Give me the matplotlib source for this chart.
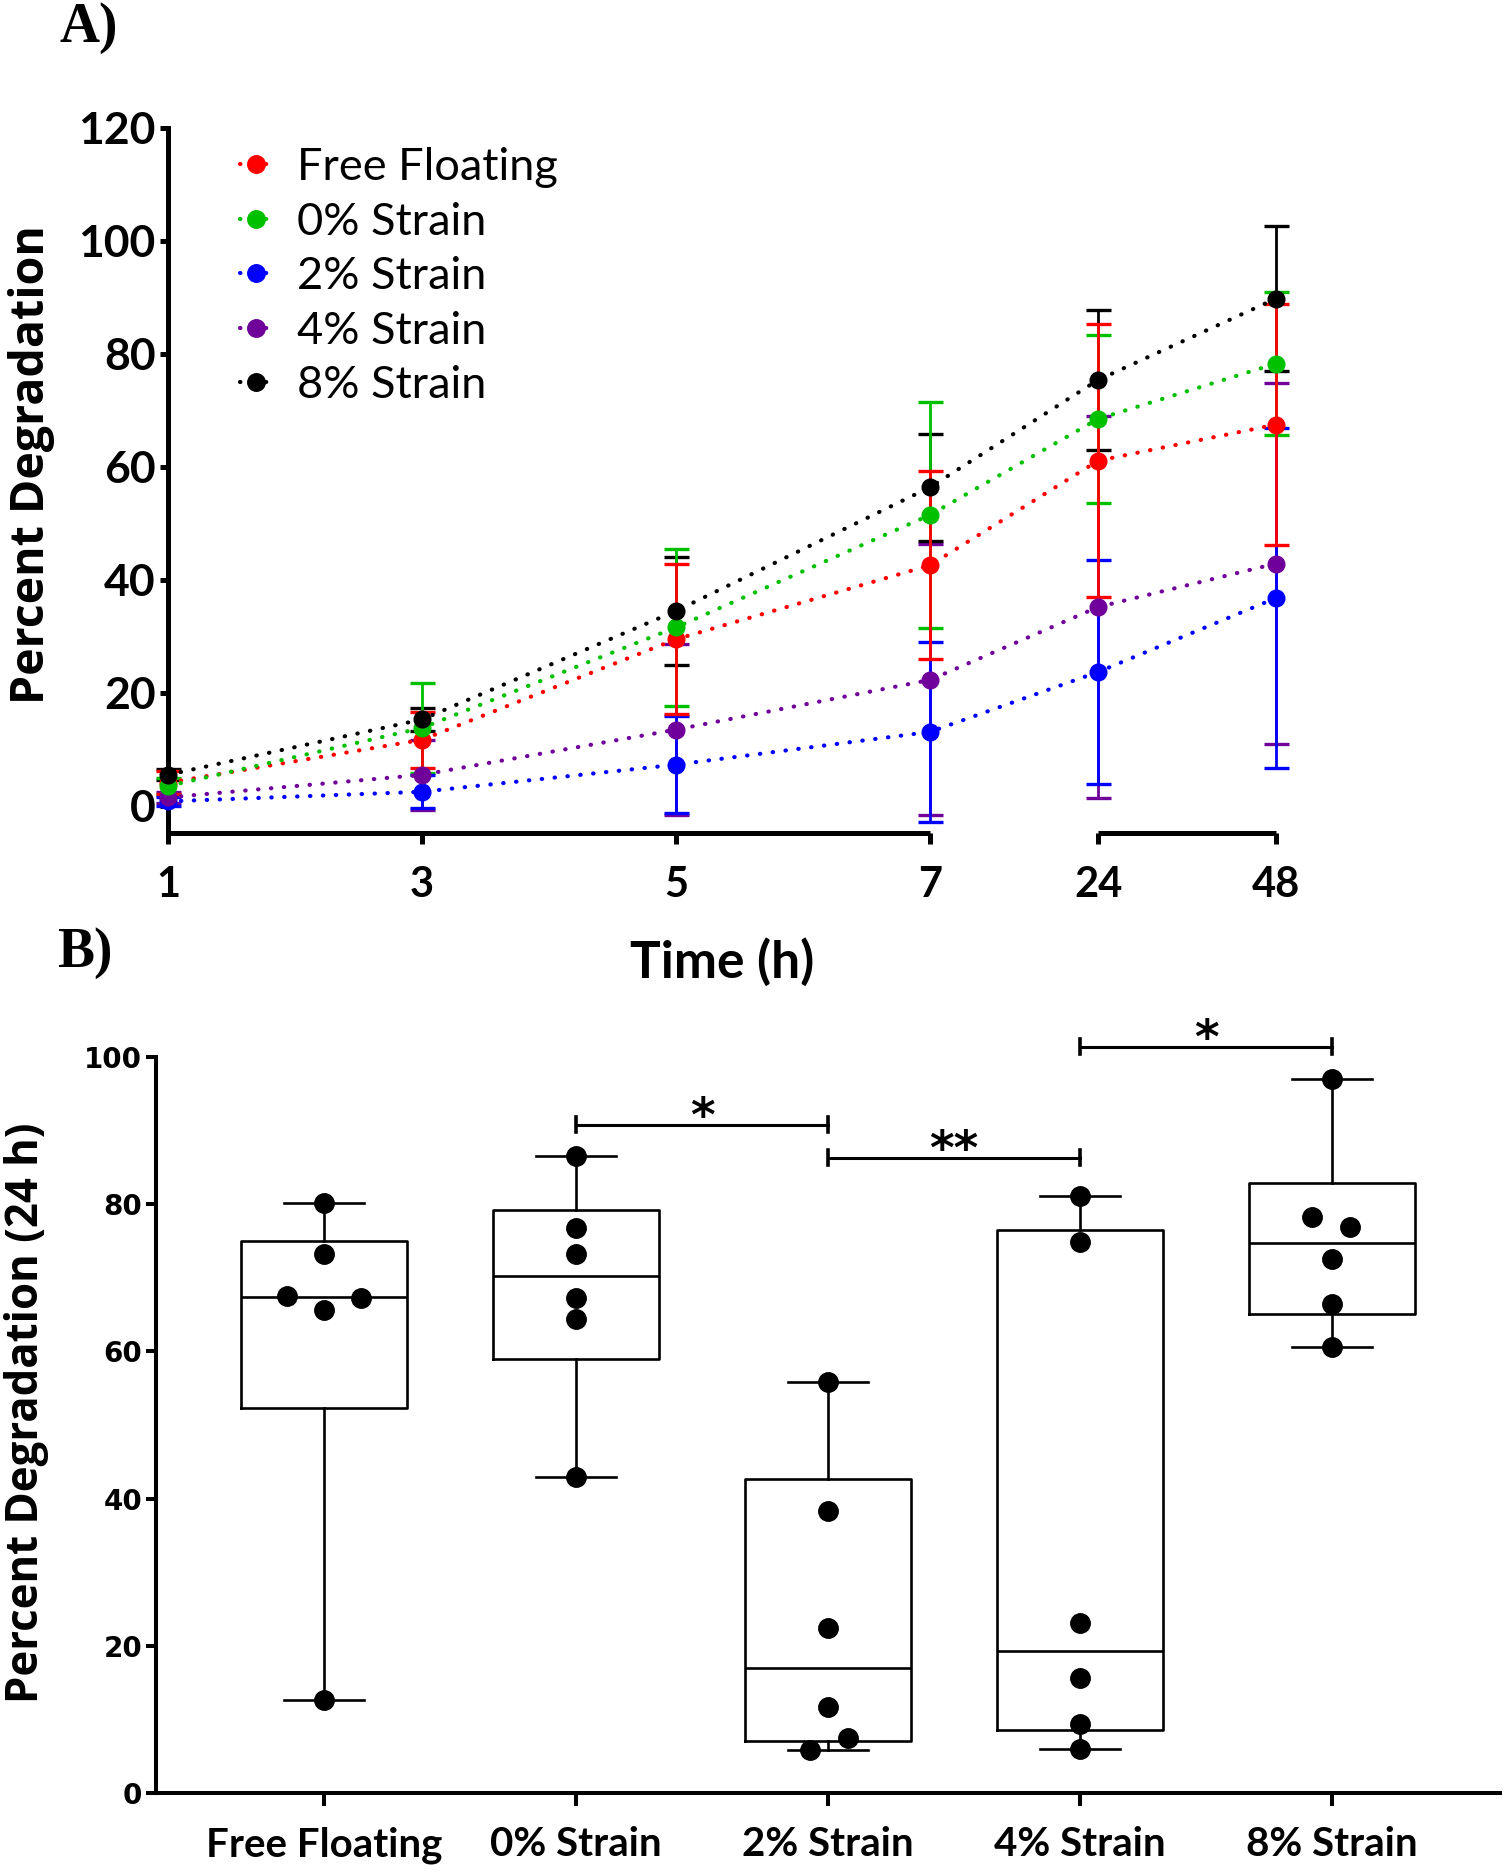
import numpy as np
import matplotlib
matplotlib.use('Agg')
import matplotlib.pyplot as plt

# ---------------- data: panel A (mean +/- SD) ----------------
times = [1, 3, 5, 7, 24, 48]
series_names = ['Free Floating', '0% Strain', '2% Strain', '4% Strain', '8% Strain']
ff_mean = [4.1, 11.7, 29.5, 42.6, 61.1, 67.5]
ff_sd = [2.0, 5.0, 13.3, 16.6, 24.2, 21.4]
s0_mean = [3.5, 13.8, 31.6, 51.5, 68.5, 78.3]
s0_sd = [1.5, 8.0, 13.9, 20.0, 14.8, 12.6]
s2_mean = [0.8, 2.5, 7.3, 13.1, 23.7, 36.8]
s2_sd = [0.8, 2.9, 8.6, 15.9, 19.8, 30.1]
s4_mean = [1.5, 5.5, 13.5, 22.3, 35.2, 42.9]
s4_sd = [1.0, 6.2, 15.1, 24.0, 33.8, 32.0]
s8_mean = [5.5, 15.3, 34.5, 56.4, 75.4, 89.8]
s8_sd = [1.0, 2.1, 9.6, 9.5, 12.4, 12.8]
series_colors = ['#FF0000', '#00C000', '#0000FF', '#70009A', '#000000']

# ---------------- data: panel B (24 h individual values) ----------------
groups = ['Free Floating', '0% Strain', '2% Strain', '4% Strain', '8% Strain']
ff_24 = [80.2, 73.3, 67.5, 67.3, 65.6, 12.7]
s0_24 = [86.5, 76.8, 73.3, 67.3, 64.4, 42.9]
s2_24 = [55.8, 38.3, 22.4, 11.7, 7.5, 5.8]
s4_24 = [81.1, 74.9, 23.1, 15.6, 9.4, 6.0]
s8_24 = [97.0, 78.2, 76.9, 72.5, 66.5, 60.6]
ff_dx = [0, 0, -0.147, 0.147, 0, 0]
s0_dx = [0, 0, 0, 0, 0, 0]
s2_dx = [0, 0, 0, 0, 0.08, -0.071]
s4_dx = [0, 0, 0, 0, 0, 0]
s8_dx = [0, -0.08, 0.071, 0, 0, 0]
sig_pairs = [(1, 2), (2, 3), (3, 4)]
sig_heights = [90.8, 86.3, 101.4]
sig_labels = ['*', '**', '*']

plt.rcParams['font.family'] = ['Lato', 'DejaVu Sans']

W, H = 1510, 1873
fig = plt.figure(figsize=(W / 100, H / 100), dpi=100)
fig.patch.set_facecolor('white')

def fx(px):
    return px / W

def fy(py):
    return 1 - py / H

# ======================= Panel A =======================
axA = fig.add_axes([fx(168), fy(833), fx(1276) - fx(168), fy(128) - fy(833)])
knots_t = [1, 7, 24, 48]
knots_p = [1, 7, 8.323, 9.724]
axA.set_xscale('function', functions=(lambda t: np.interp(t, knots_t, knots_p),
                                      lambda p: np.interp(p, knots_p, knots_t)))
axA.set_xlim(1, 48)
axA.set_ylim(-4.8, 120)

means = [ff_mean, s0_mean, s2_mean, s4_mean, s8_mean]
sds = [ff_sd, s0_sd, s2_sd, s4_sd, s8_sd]
bar_order = [3, 4, 1, 2, 0]
for k, i in enumerate(bar_order):
    eb = axA.errorbar(times, means[i], yerr=sds[i], fmt='none', ecolor=series_colors[i],
                      elinewidth=2.0, capsize=9, capthick=2.4, zorder=2 + k * 0.1)
    for art in eb.get_children():
        art.set_clip_on(False)

line_handles = []
for k, i in enumerate([2, 3, 0, 1, 4]):
    ln, = axA.plot(times, means[i], linestyle=(0, (0.1, 3.0)), dash_capstyle='round',
                   lw=3.0, color=series_colors[i], marker='o', markersize=12,
                   zorder=3 + k * 0.1, clip_on=False, label=series_names[i])
    line_handles.append((i, ln))
line_handles.sort(key=lambda t: t[0])

for s in ['top', 'right', 'bottom']:
    axA.spines[s].set_visible(False)
axA.spines['left'].set_linewidth(3.6)
ybot = axA.get_ylim()[0]
axA.plot([1, 7], [ybot, ybot], color='k', lw=3.6, solid_capstyle='butt', clip_on=False, zorder=5)
axA.plot([24, 48], [ybot, ybot], color='k', lw=3.6, solid_capstyle='butt', clip_on=False, zorder=5)

axA.set_xticks(times)
axA.set_xticklabels([str(t) for t in times])
axA.set_yticks([0, 20, 40, 60, 80, 100, 120])
axA.minorticks_off()
axA.tick_params(axis='x', direction='out', length=8, width=3.6, pad=16, labelsize=30)
axA.tick_params(axis='y', direction='out', length=6, width=3.6, pad=3, labelsize=32)
for lbl in axA.get_xticklabels() + axA.get_yticklabels():
    lbl.set_fontweight('bold')

leg = axA.legend([h for _, h in line_handles], [series_names[i] for i, _ in line_handles],
                 loc='upper left', bbox_to_anchor=(fx(240), fy(147)), bbox_transform=fig.transFigure,
                 frameon=False, fontsize=32.5, handlelength=0.72, handletextpad=0.55,
                 labelspacing=0.30, borderaxespad=0, borderpad=0, markerscale=1.05)

fig.text(fx(32), fy(465), 'Percent Degradation', rotation=90, ha='center', va='center',
         fontsize=33.5, fontweight='bold', family=['Open Sans', 'DejaVu Sans'])
fig.text(fx(722), fy(962), 'Time (h)', ha='center', va='center', fontsize=37, fontweight='bold')
fig.text(fx(60), fy(28), 'A)', ha='left', va='center', fontsize=40, fontweight='bold',
         family=['Liberation Serif', 'DejaVu Serif'])
fig.text(fx(57), fy(953), 'B)', ha='left', va='center', fontsize=40, fontweight='bold',
         family=['Liberation Serif', 'DejaVu Serif'])

# ======================= Panel B =======================
axB = fig.add_axes([fx(156), fy(1793), fx(1500) - fx(156), fy(1057) - fy(1793)])
axB.set_xlim(-0.667, 4.667)
axB.set_ylim(0, 100)

vals = [ff_24, s0_24, s2_24, s4_24, s8_24]
dxs = [ff_dx, s0_dx, s2_dx, s4_dx, s8_dx]
stats = []
for v in vals:
    a = np.asarray(v, dtype=float)
    q1, med, q3 = np.percentile(a, [25, 50, 75], method='weibull')
    stats.append(dict(med=med, q1=q1, q3=q3, whislo=a.min(), whishi=a.max(), fliers=[]))
lw_box = 1.9
axB.bxp(stats, positions=range(len(groups)), widths=0.66, capwidths=0.32, showfliers=False,
        boxprops=dict(color='k', lw=lw_box), medianprops=dict(color='k', lw=lw_box),
        whiskerprops=dict(color='k', lw=lw_box), capprops=dict(color='k', lw=lw_box))
for g, (v, d) in enumerate(zip(vals, dxs)):
    axB.plot(np.array(d) + g, v, 'o', color='k', markersize=14, zorder=4, clip_on=False)

for (a, b), h, lab in zip(sig_pairs, sig_heights, sig_labels):
    axB.plot([a, b], [h, h], color='k', lw=2.2, clip_on=False)
    for xx in (a, b):
        axB.plot([xx, xx], [h - 1.0, h + 1.0], color='k', lw=2.6, clip_on=False)
    axB.text((a + b) / 2, h - 0.9, lab, ha='center', va='baseline', fontsize=34,
             fontweight='bold', family=['DejaVu Sans'], clip_on=False)

for s in ['top', 'right']:
    axB.spines[s].set_visible(False)
axB.spines['left'].set_linewidth(2.9)
axB.spines['bottom'].set_linewidth(2.9)
axB.set_xticks(range(len(groups)))
axB.set_xticklabels(groups)
axB.set_yticks([0, 20, 40, 60, 80, 100])
axB.tick_params(axis='x', direction='out', length=9, width=2.9, pad=15, labelsize=29)
axB.tick_params(axis='y', direction='out', length=7, width=2.9, pad=3, labelsize=20)
for lbl in axB.get_xticklabels():
    lbl.set_fontweight('bold')
for lbl in axB.get_yticklabels():
    lbl.set_fontweight('bold')
    lbl.set_family(['DejaVu Sans'])

fig.text(fx(27), fy(1413), 'Percent Degradation (24 h)', rotation=90, ha='center', va='center',
         fontsize=31.5, fontweight='bold', family=['Open Sans', 'DejaVu Sans'])

fig.savefig('out.png', dpi=100, facecolor='white')
